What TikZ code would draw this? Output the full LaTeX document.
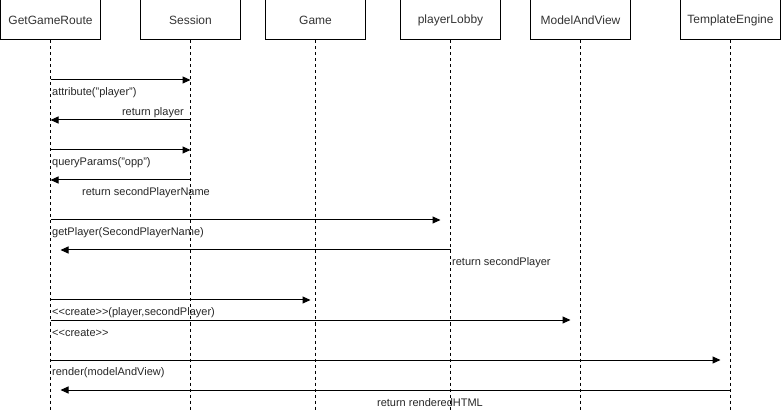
\documentclass[tikz,border=0pt]{standalone}
\usepackage{fontspec}
\setmainfont{Liberation Sans}
\usetikzlibrary{arrows.meta}
\newcommand{\stereo}[1]{<\kern0pt<#1>\kern0pt>}

\begin{document}
\begin{tikzpicture}[x=1pt,y=-1pt,
		actor/.style={draw, line width=1pt, minimum width=100pt, minimum height=40pt,
			inner sep=0pt, text=black!80, font=\fontsize{12}{14}\selectfont},
		lifeline/.style={line width=1pt, dash pattern=on 3pt off 3pt},
		msg/.style={line width=1pt, -{Triangle[length=8pt,width=7pt]}},
		msglabel/.style={inner sep=0pt, text=black!85, font=\fontsize{11}{13}\selectfont}]
		\useasboundingbox (0,0) rectangle (781,411);
		% actors
		\node[actor] (GetGameRoute) at (50.5,20) {GetGameRoute};
		\node[actor] (Session) at (190.5,20) {Session};
		\node[actor] (Game) at (315.5,20) {Game};
		\node[actor] (playerLobby) at (450.5,20) {playerLobby};
		\node[actor] (ModelAndView) at (580.5,20) {ModelAndView};
		\node[actor] (TemplateEngine) at (730.5,20) {TemplateEngine};
		% lifelines
		\foreach \a in {GetGameRoute,Session,Game,playerLobby,ModelAndView,TemplateEngine}
		\draw[lifeline] (\a.south) -- (\a |- 0,411);
		% messages
		\draw[msg] (GetGameRoute |- 0,80) -- (Session |- 0,80);
		\node[msglabel, anchor=west] (m1) at (52,93) {attribute("player")};
		\draw[msg] (Session |- 0,120) -- (GetGameRoute |- 0,120);
		\node[msglabel, anchor=east] (m2) at (184,113) {return player};
		\draw[msg] (GetGameRoute |- 0,150) -- (Session |- 0,150);
		\node[msglabel, anchor=west] (m3) at (52,163) {queryParams("opp")};
		\draw[msg] (Session |- 0,180) -- (GetGameRoute |- 0,180);
		\node[msglabel] (m4) at (146,193) {return secondPlayerName};
		\draw[msg, shorten >=10pt] (GetGameRoute |- 0,220) -- (playerLobby |- 0,220);
		\node[msglabel, anchor=west] (m5) at (52,233) {getPlayer(SecondPlayerName)};
		\draw[msg, shorten >=10pt] (playerLobby |- 0,250) -- (GetGameRoute |- 0,250);
		\node[msglabel, anchor=west] (m6) at (452,263) {return secondPlayer};
		\draw[msg, shorten >=5pt] (GetGameRoute |- 0,300) -- (Game |- 0,300);
		\node[msglabel, anchor=west] (m7) at (52,313) {\stereo{create}(player,secondPlayer)};
		\draw[msg, shorten >=10pt] (GetGameRoute |- 0,320) -- (ModelAndView |- 0,320);
		\node[msglabel, anchor=west] (m8) at (52,333) {\stereo{create}};
		\draw[msg, shorten >=10pt] (GetGameRoute |- 0,360) -- (TemplateEngine |- 0,360);
		\node[msglabel, anchor=west] (m9) at (52,373) {render(modelAndView)};
		\draw[msg, shorten >=10pt] (TemplateEngine |- 0,390) -- (GetGameRoute |- 0,390);
		\node[msglabel] (m10) at (430,403) {return renderedHTML};
	\end{tikzpicture}
\end{document}
